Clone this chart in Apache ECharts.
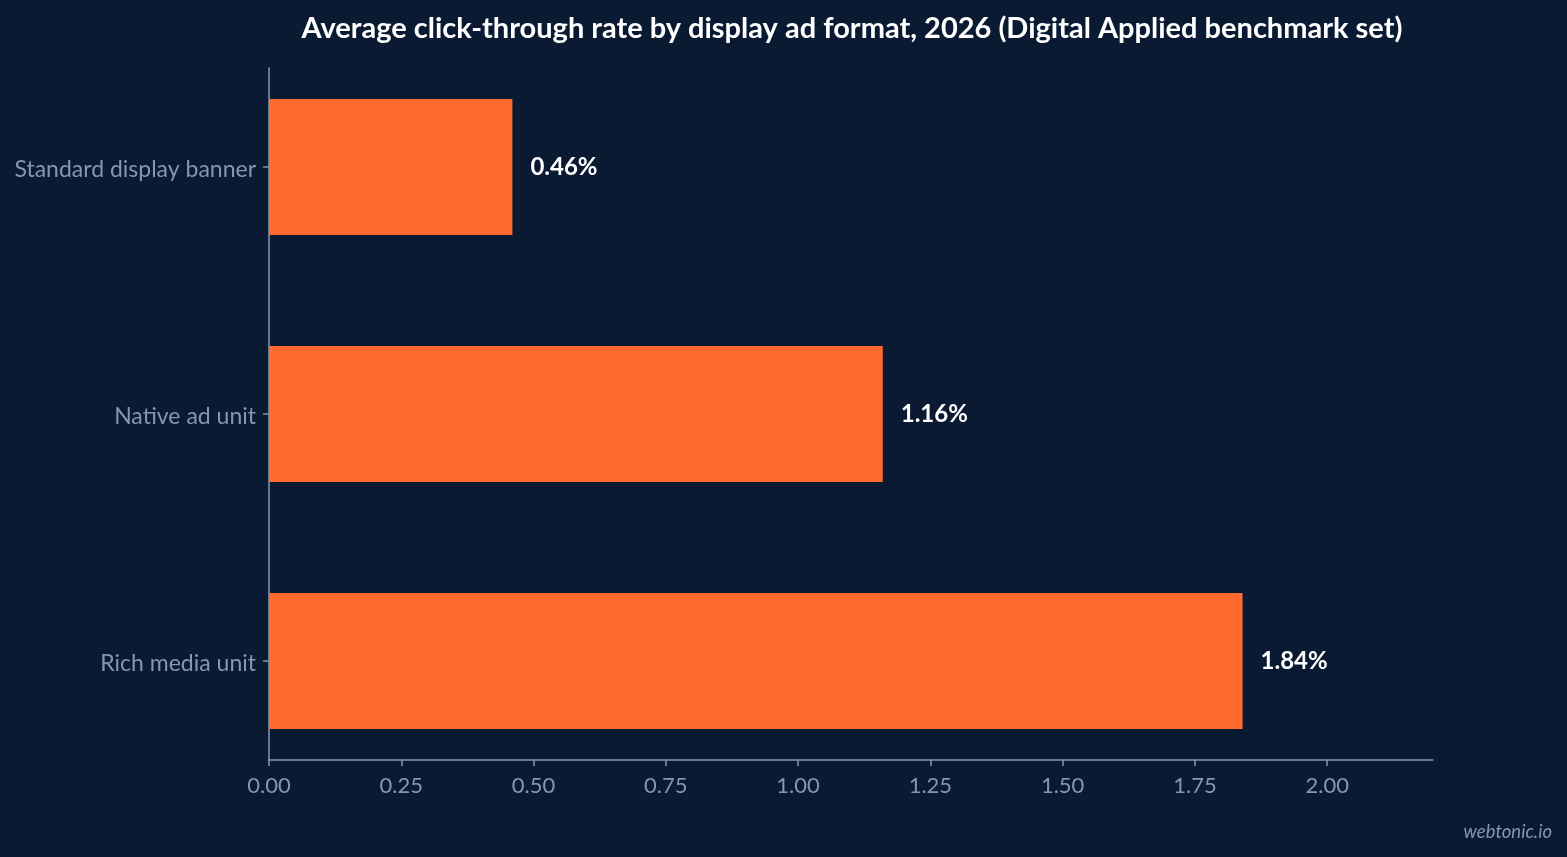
<!DOCTYPE html>
<html>
<head>
<meta charset="utf-8">
<script src="https://cdn.jsdelivr.net/npm/echarts@6/dist/echarts.min.js"></script>
<style>
  html, body { margin: 0; padding: 0; background: #0b1a33; }
  #main { width: 1567px; height: 857px; }
</style>
</head>
<body>
<div id="main"></div>
<script>
var formats = ['Standard display banner', 'Native ad unit', 'Rich media unit'];
var ctr = [0.46, 1.16, 1.84];
var xTicks = [0, 0.25, 0.5, 0.75, 1, 1.25, 1.5, 1.75, 2];

var axisGrey = '#8796b0';
var myChart = echarts.init(document.getElementById('main'));

myChart.setOption({
    backgroundColor: '#0b1a33',
    textStyle: { fontFamily: 'Lato' },
    title: [{
        text: 'Average click-through rate by display ad format, 2026 (Digital Applied benchmark set)',
        left: 847,
        top: 9,
        textAlign: 'center',
        textStyle: { color: '#ffffff', fontSize: 29, fontWeight: 'bold', fontFamily: 'Lato' }
    }, {
        text: 'webtonic.io',
        right: 10,
        bottom: 10,
        textStyle: { color: axisGrey, fontSize: 18.5, fontStyle: 'italic', fontWeight: 'normal', fontFamily: 'Lato' }
    }],
    // grid 0 holds the bars (bands of 247px), grid 1 holds the visible axis frame
    grid: [
        { left: 269, right: 134, top: 43.5, bottom: 72.5 },
        { left: 269, right: 134, top: 68, bottom: 97 }
    ],
    xAxis: [{
        gridIndex: 0,
        type: 'value',
        min: 0,
        max: 2.2,
        show: false
    }, {
        gridIndex: 1,
        type: 'value',
        min: 0,
        max: 2.2,
        interval: 0.25,
        splitLine: { show: false },
        axisLine: { show: true, lineStyle: { color: axisGrey, width: 1.5 } },
        axisTick: { show: true, length: 6, lineStyle: { color: axisGrey, width: 1.5 }, customValues: xTicks },
        axisLabel: {
            color: axisGrey,
            fontSize: 22,
            margin: 15,
            customValues: xTicks,
            formatter: function(v) { return v.toFixed(2); }
        }
    }],
    yAxis: [{
        gridIndex: 0,
        type: 'category',
        inverse: true,
        data: formats,
        axisLine: { show: false },
        axisTick: { show: true, alignWithLabel: true, length: 6, lineStyle: { color: axisGrey, width: 1.5 } },
        axisLabel: {
            margin: 13,
            formatter: function(v) { return '{n|' + v + '}'; },
            rich: { n: { color: axisGrey, fontSize: 23, fontFamily: 'Lato', padding: [6, 0, 0, 0] } }
        }
    }, {
        gridIndex: 1,
        type: 'value',
        min: 0,
        max: 1,
        axisLine: { show: true, lineStyle: { color: axisGrey, width: 1.5 } },
        axisTick: { show: false },
        axisLabel: { show: false },
        splitLine: { show: false }
    }],
    series: [{
        name: 'CTR',
        type: 'bar',
        xAxisIndex: 0,
        yAxisIndex: 0,
        barWidth: '55%',
        itemStyle: { color: '#ff6b2e' },
        label: {
            show: true,
            position: 'right',
            distance: 18,
            color: '#ffffff',
            fontSize: 24,
            fontWeight: 'bold',
            fontFamily: 'Lato',
            formatter: function(p) { return p.value.toFixed(2) + '%'; }
        },
        data: ctr
    }]
});
</script>
</body>
</html>
